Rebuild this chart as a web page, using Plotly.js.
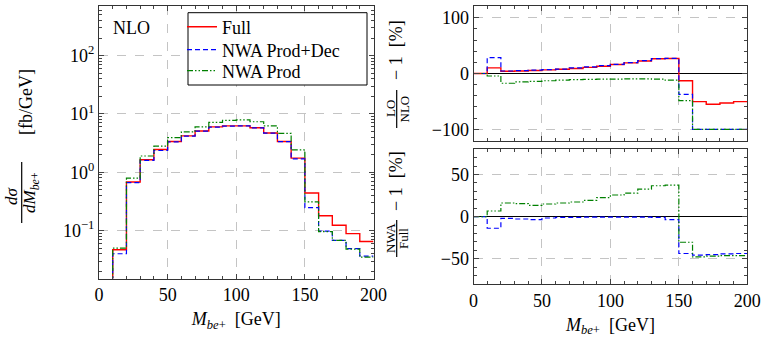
<!DOCTYPE html>
<html>
<head>
<meta charset="utf-8">
<script src="https://cdn.plot.ly/plotly-3.0.1.min.js"></script>
<style>html,body{margin:0;padding:0;background:#fff;}#chart{width:764px;height:338px;}</style>
</head>
<body>
<div id="chart"></div>
<script>
// Bin edges in GeV (10 GeV bins)
const binEdges = [0,10,20,30,40,50,60,70,80,90,100,110,120,130,140,150,160,170,180,190,200];

// Left panel: NLO dσ/dM [fb/GeV] per bin (0 = empty bin)
const fullNLO   = [0, 0.047, 0.68, 1.64, 2.45, 3.37, 4.20, 5.10, 6.00, 6.25, 6.25, 5.80, 4.70, 3.37, 1.75, 0.44, 0.180, 0.123, 0.0885, 0.065];
const nwaPDNLO  = [0, 0.040, 0.666, 1.594, 2.36, 3.32, 4.17, 5.06, 5.96, 6.20, 6.22, 5.77, 4.67, 3.34, 1.69, 0.247, 0.098, 0.068, 0.049, 0.0365];
const nwaPNLO   = [0, 0.050, 0.79, 1.90, 2.80, 3.92, 4.92, 6.02, 7.15, 7.75, 7.90, 7.35, 6.25, 4.65, 2.42, 0.31, 0.096, 0.068, 0.048, 0.035];

// Top right: LO/NLO - 1 [%]
const fullLOratio  = [0, 10.0, 4.0, 4.5, 5.5, 6.5, 7.5, 9.0, 11.0, 13.0, 16.0, 19.0, 22.5, 26.5, 27.0, -13.0, -50.5, -55.0, -53.0, -50.5];
const nwaPDLOratio = [0, 28.5, 4.5, 5.0, 6.0, 7.0, 8.0, 10.0, 12.0, 14.0, 16.5, 19.5, 23.0, 26.5, 27.0, -37.5, -100, -100, -100, -100];
const nwaPLOratio  = [0, -4.5, -17.5, -15.0, -14.0, -13.0, -12.0, -11.0, -10.5, -10.0, -10.0, -9.5, -9.5, -10.0, -12.0, -48.5, -100, -100, -100, -100];

// Bottom right: NWA/Full - 1 [%]
const nwaPDFullRatio = [0, -13.8, -2.0, -2.8, -3.6, -1.6, -0.8, -0.8, -0.6, -0.5, -0.5, -0.5, -0.6, -0.8, -3.6, -43.8, -45.8, -45.0, -44.2, -43.8];
const nwaPFullRatio  = [0, 6.7, 16.2, 15.4, 13.4, 15.0, 16.2, 17.4, 19.4, 22.5, 25.7, 28.0, 32.8, 36.7, 37.5, -30.4, -47.8, -47.0, -46.2, -46.2];

const seriesNames = ["Full", "NWA Prod+Dec", "NWA Prod"];
const yTickVals = [0.1, 1, 10, 100];
const yTickText = ["10<sup>−1</sup>", "10<sup>0</sup>", "10<sup>1</sup>", "10<sup>2</sup>"];

// step helper: repeat last bin value at the right edge (for 'hv' lines)
function stepY(v, logFloor) {
  const a = v.map(d => (logFloor && d <= 0) ? logFloor : d);
  return a.concat([a[a.length - 1]]);
}

const FONT = "Liberation Serif";
const RED = "#ff0000", BLUE = "#0000ff", GREEN = "#008000";
const DASH_B = "5px,3px";
const DASH_G = "6px,2px,1.5px,2px,1.5px,2px";

function tr(y, xa, ya, color, dash, name, legend, w) {
  const t = {x: binEdges, y: y, xaxis: xa, yaxis: ya, type: "scatter", mode: "lines",
    line: {shape: "hv", color: color, dash: dash, width: w || 1.2},
    name: name, showlegend: !!legend, hoverinfo: "skip"};
  if (legend) t.legend = legend;
  return t;
}

const data = [
  tr(stepY(fullNLO, 1e-3), "x", "y", RED, "solid", seriesNames[0], "legend2", 1.4),
  tr(stepY(nwaPDNLO, 1e-3), "x", "y", BLUE, DASH_B, seriesNames[1], "legend3"),
  tr(stepY(nwaPNLO, 1e-3), "x", "y", GREEN, DASH_G, seriesNames[2], "legend4"),
  tr(stepY(fullLOratio), "x2", "y2", RED, "solid", seriesNames[0], null, 1.4),
  tr(stepY(nwaPDLOratio), "x2", "y2", BLUE, DASH_B, seriesNames[1], null),
  tr(stepY(nwaPLOratio), "x2", "y2", GREEN, DASH_G, seriesNames[2], null),
  tr(stepY(nwaPDFullRatio), "x3", "y3", BLUE, DASH_B, seriesNames[1], null),
  tr(stepY(nwaPFullRatio), "x3", "y3", GREEN, DASH_G, seriesNames[2], null)
];

// minor tick positions for the log axis (2..9 per decade)
const logMinor = [];
[0.01, 0.1, 1, 10, 100].forEach(d => { for (let k = 2; k <= 9; k++) logMinor.push(k * d); });

const W = 764, H = 338;
const px = v => v / W, py = v => 1 - v / H;

const frame = {showline: true, linecolor: "#333", linewidth: 1, mirror: "allticks",
  ticks: "inside", ticklen: 5, tickcolor: "#444", tickwidth: 1,
  showgrid: true, gridcolor: "#c4c4c4", griddash: "dash", gridwidth: 1,
  zeroline: false, tickfont: {family: FONT, size: 18, color: "#000"}};

const xTitle = {text: "<i>M</i><sub><i>be</i>+</sub>  [GeV]", font: {family: FONT, size: 18, color: "#000"}, standoff: 8};

function leg(yc) {
  return {x: px(182), y: py(yc), xanchor: "left", yanchor: "middle", bgcolor: "rgba(0,0,0,0)",
    borderwidth: 0, font: {family: FONT, size: 18, color: "#000"}, itemwidth: 30};
}

const layout = {
  width: W, height: H, margin: {l: 0, r: 0, t: 0, b: 0},
  paper_bgcolor: "#fff", plot_bgcolor: "#fff", showlegend: true,
  font: {family: FONT, size: 18, color: "#000"},
  xaxis: Object.assign({}, frame, {domain: [px(99), px(373.5)], range: [0, 200], anchor: "y",
    tickvals: [0, 50, 100, 150, 200], minor: {dtick: 10, tick0: 0, ticks: "inside", ticklen: 3, tickcolor: "#444", showgrid: false},
    title: xTitle}),
  yaxis: Object.assign({}, frame, {domain: [py(278.5), py(6)], type: "log", range: [-1.822, 2.851], anchor: "x",
    tickvals: yTickVals, ticktext: yTickText,
    minor: {tickmode: "array", tickvals: logMinor, ticks: "inside", ticklen: 3, tickcolor: "#444", showgrid: false}}),
  xaxis2: Object.assign({}, frame, {domain: [px(473.5), px(747.3)], range: [0, 200], anchor: "y2",
    tickvals: [0, 50, 100, 150, 200], showticklabels: false,
    minor: {dtick: 10, tick0: 0, ticks: "inside", ticklen: 3, tickcolor: "#444", showgrid: false}}),
  yaxis2: Object.assign({}, frame, {domain: [py(141), py(6)], range: [-121, 121], anchor: "x2",
    tickvals: [-100, 0, 100],
    zeroline: true, zerolinecolor: "#000", zerolinewidth: 1.3,
    minor: {dtick: 20, tick0: 0, ticks: "inside", ticklen: 3, tickcolor: "#444", showgrid: false}}),
  xaxis3: Object.assign({}, frame, {domain: [px(473.5), px(747.3)], range: [0, 200], anchor: "y3",
    tickvals: [0, 50, 100, 150, 200],
    minor: {dtick: 10, tick0: 0, ticks: "inside", ticklen: 3, tickcolor: "#444", showgrid: false},
    title: xTitle}),
  yaxis3: Object.assign({}, frame, {domain: [py(284), py(149.3)], range: [-80, 80], anchor: "x3",
    tickvals: [-50, 0, 50],
    zeroline: true, zerolinecolor: "#000", zerolinewidth: 1.3,
    minor: {dtick: 10, tick0: 0, ticks: "inside", ticklen: 3, tickcolor: "#444", showgrid: false}}),
  legend2: leg(27),
  legend3: leg(50),
  legend4: leg(71),
  annotations: [
    {text: "NLO", xref: "paper", yref: "paper", x: px(131), y: py(27.5), showarrow: false,
      font: {family: FONT, size: 18}, xanchor: "center", yanchor: "middle"},
    // left y title: fraction dσ / dM_{be+}  [fb/GeV]
    {text: "<i>dσ</i>", xref: "paper", yref: "paper", x: px(11), y: py(196), showarrow: false, textangle: -90,
      font: {family: FONT, size: 17}, xanchor: "center", yanchor: "middle"},
    {text: "<i>dM</i><sub><i>be</i>+</sub>", xref: "paper", yref: "paper", x: px(31), y: py(193), showarrow: false, textangle: -90,
      font: {family: FONT, size: 17}, xanchor: "center", yanchor: "middle"},
    {text: "[fb/GeV]", xref: "paper", yref: "paper", x: px(26), y: py(102), showarrow: false, textangle: -90,
      font: {family: FONT, size: 18}, xanchor: "center", yanchor: "middle"},
    // top right y title
    {text: "LO", xref: "paper", yref: "paper", x: px(390), y: py(109), showarrow: false, textangle: -90,
      font: {family: FONT, size: 13}, xanchor: "center", yanchor: "middle"},
    {text: "NLO", xref: "paper", yref: "paper", x: px(403.5), y: py(109), showarrow: false, textangle: -90,
      font: {family: FONT, size: 13}, xanchor: "center", yanchor: "middle"},
    {text: "− 1  [%]", xref: "paper", yref: "paper", x: px(396), y: py(50), showarrow: false, textangle: -90,
      font: {family: FONT, size: 18}, xanchor: "center", yanchor: "middle"},
    // bottom right y title
    {text: "NWA", xref: "paper", yref: "paper", x: px(390.5), y: py(238.5), showarrow: false, textangle: -90,
      font: {family: FONT, size: 13}, xanchor: "center", yanchor: "middle"},
    {text: "Full", xref: "paper", yref: "paper", x: px(403.5), y: py(238.5), showarrow: false, textangle: -90,
      font: {family: FONT, size: 13}, xanchor: "center", yanchor: "middle"},
    {text: "− 1  [%]", xref: "paper", yref: "paper", x: px(396), y: py(181), showarrow: false, textangle: -90,
      font: {family: FONT, size: 18}, xanchor: "center", yanchor: "middle"}
  ],
  shapes: [
    // legend frame
    {type: "rect", xref: "paper", yref: "paper", x0: px(188), x1: px(367), y0: py(85), y1: py(12.7),
      line: {color: "#000", width: 1}, fillcolor: "#fff", layer: "above"},
    {type: "line", xref: "paper", yref: "paper", x0: px(21.7), x1: px(21.7), y0: py(162), y1: py(223), line: {color: "#000", width: 1.2}},
    {type: "line", xref: "paper", yref: "paper", x0: px(396.7), x1: px(396.7), y0: py(90), y1: py(128), line: {color: "#000", width: 1.2}},
    {type: "line", xref: "paper", yref: "paper", x0: px(396.7), x1: px(396.7), y0: py(220), y1: py(257), line: {color: "#000", width: 1.2}}
  ]
};

Plotly.newPlot("chart", data, layout, {staticPlot: true, displayModeBar: false});
</script>
</body>
</html>
